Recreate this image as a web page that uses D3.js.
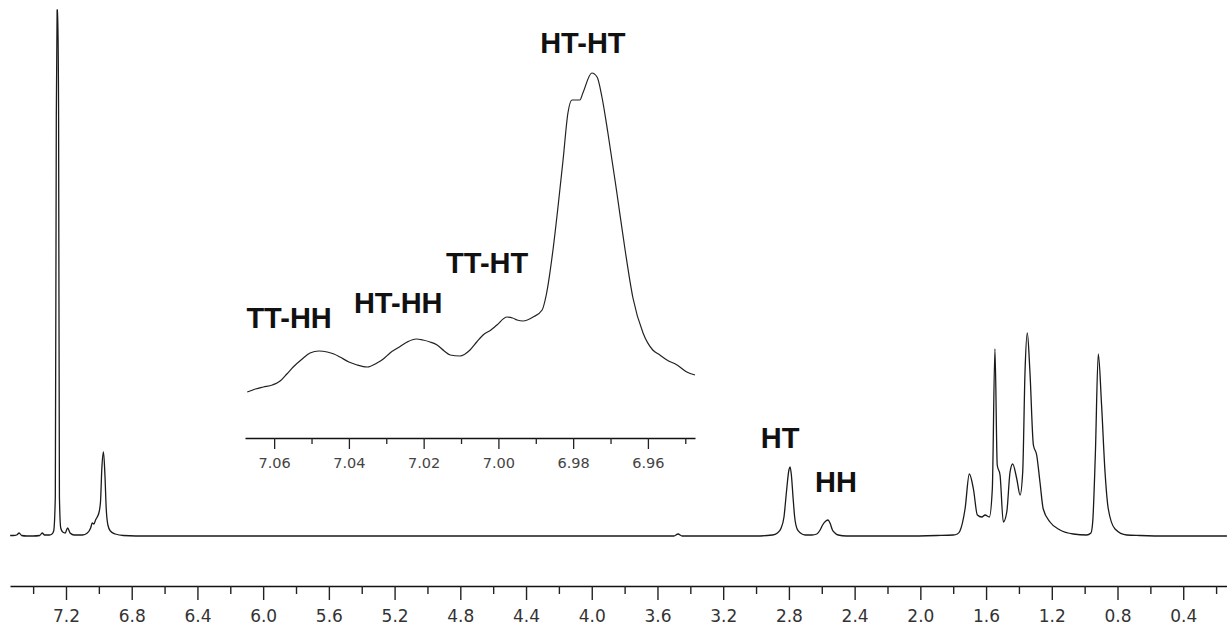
<!DOCTYPE html>
<html>
<head>
<meta charset="utf-8">
<script src="https://cdn.jsdelivr.net/npm/d3@7/dist/d3.min.js"></script>
<style>
  html, body { margin: 0; padding: 0; background: #fff; }
  svg { display: block; }
</style>
</head>
<body>
<svg id="chart" width="1227" height="627"></svg>
<script>
// ---------------- DATA ----------------
// Main 1H NMR trace: chemical shift (ppm) and intensity (a.u.)
const mainPpm = [
  7.54, 7.52, 7.50, 7.485, 7.47, 7.44, 7.40, 7.36, 7.345, 7.33, 7.30, 7.285,
  7.275, 7.265, 7.259, 7.254, 7.250, 7.245, 7.24, 7.232, 7.22, 7.205, 7.19, 7.175, 7.15,
  7.10, 7.07, 7.05, 7.04, 7.03, 7.02, 7.01, 7.00, 6.99, 6.982, 6.972, 6.963,
  6.955, 6.945, 6.93, 6.90, 6.85, 6.70, 6.40, 6.00, 5.50, 5.00, 4.50, 4.00,
  3.60, 3.50, 3.475, 3.45, 3.30, 3.00, 2.90, 2.87, 2.85, 2.83, 2.815, 2.80,
  2.793, 2.785, 2.775, 2.765, 2.75, 2.73, 2.70, 2.66, 2.63, 2.61, 2.595, 2.575,
  2.562, 2.55, 2.535, 2.52, 2.50, 2.45, 2.30, 2.10, 1.90, 1.80, 1.775, 1.759,
  1.728, 1.702, 1.677, 1.653, 1.626, 1.606, 1.58, 1.562, 1.546, 1.532, 1.515, 1.495,
  1.474, 1.454, 1.438, 1.413, 1.393, 1.377, 1.363, 1.349, 1.333, 1.312, 1.292, 1.272,
  1.252, 1.211, 1.15, 1.069, 0.988, 0.962, 0.951, 0.935, 0.917, 0.897, 0.876, 0.856,
  0.815, 0.744, 0.663, 0.50, 0.30, 0.134
];
const mainInt = [
  1.5, 1.5, 2, 4, 1.5, 1, 1, 1.5, 4, 2, 2, 3,
  6, 40, 420, 527, 527, 420, 40, 9, 5, 4, 9, 4, 2,
  2, 4, 9, 14, 13, 17, 20, 24, 35, 68, 85, 62,
  28, 12, 6, 3, 1.5, 1, 1, 1, 1, 1, 1, 1,
  1, 1, 3, 1, 1, 1, 2, 4, 8, 20, 45, 67,
  70, 62, 40, 20, 8, 4, 2, 2, 3, 7, 12, 16,
  17, 14, 7, 4, 2, 1, 1, 1, 1.5, 2, 3, 6,
  28, 63, 48, 22, 20, 22, 20, 48, 188, 72, 62, 15,
  25, 65, 73, 58, 42, 65, 165, 204, 165, 92, 82, 55,
  28, 15, 7, 3, 2, 4, 15, 82, 183, 132, 65, 28,
  8, 2, 1.5, 1, 1, 1
];

// Inset (expanded aromatic region)
const insetPpm = [
  7.0672, 7.0650, 7.0629, 7.0605, 7.0584, 7.0566, 7.0549, 7.0525, 7.0504, 7.0480,
  7.0458, 7.0440, 7.0424, 7.0400, 7.0378, 7.0351, 7.0325, 7.0308, 7.0290, 7.0265,
  7.0244, 7.0220, 7.0202, 7.0183, 7.0164, 7.0145, 7.0129, 7.0103, 7.0076, 7.0058,
  7.0041, 7.0020, 7.0004, 6.9977, 6.9962, 6.9950, 6.9934, 6.9907, 6.9883, 6.9872,
  6.9854, 6.9840, 6.9827, 6.9814, 6.9803, 6.9782, 6.9774, 6.9750, 6.9736, 6.9723,
  6.9707, 6.9683, 6.9661, 6.9640, 6.9613, 6.9587, 6.9568, 6.9549, 6.9522, 6.9496,
  6.9474
];
const insetInt = [
  8, 11, 13, 15, 19, 26, 33, 41, 47, 49,
  48, 46, 43, 38, 35, 33, 37, 41, 47, 53,
  58, 61, 60, 58, 55, 49, 45, 44, 50, 58,
  65, 70, 75, 83, 82, 80, 79, 83, 90, 105,
  150, 195, 240, 287, 300, 300, 307, 327, 323, 303,
  267, 207, 150, 102, 67, 50, 45, 40, 35, 28,
  25
];

// Axis tick values
const mainMajorTicks = [7.2, 6.8, 6.4, 6.0, 5.6, 5.2, 4.8, 4.4, 4.0, 3.6, 3.2, 2.8, 2.4, 2.0, 1.6, 1.2, 0.8, 0.4];
const mainMinorTicks = [7.4, 7.0, 6.6, 6.2, 5.8, 5.4, 5.0, 4.6, 4.2, 3.8, 3.4, 3.0, 2.6, 2.2, 1.8, 1.4, 1.0, 0.6, 0.2];
const insetMajorTicks = [7.06, 7.04, 7.02, 7.00, 6.98, 6.96];
const insetMinorTicks = [7.05, 7.03, 7.01, 6.99, 6.97, 6.95];

// Peak assignments (anchored in data coordinates)
const insetLabelText = ["HT-HT", "TT-HT", "HT-HH", "TT-HH"];
const insetLabelPpm  = [6.9774, 7.0030, 7.0268, 7.0560];
const insetLabelInt  = [347, 127, 87, 72];
const mainLabelText = ["HT", "HH"];
const mainLabelPpm  = [2.854, 2.513];
const mainLabelInt  = [89, 45];

// ---------------- DRAWING ----------------
const svg = d3.select("#chart");

// main scales
const x = d3.scaleLinear().domain([7.5408, 0.1336]).range([10, 1227]);
const y = d3.scaleLinear().domain([0, 527]).range([537, 10]);

// inset scales
const xi = d3.scaleLinear().domain([7.0678, 6.9474]).range([245, 695]);
const yi = d3.scaleLinear().domain([0, 330]).range([400, 70]);

const mainData = mainPpm.map((p, i) => [p, mainInt[i]]);
const insetData = insetPpm.map((p, i) => [p, insetInt[i]]);

const line = d3.line().x(d => x(d[0])).y(d => y(d[1])).curve(d3.curveMonotoneX);
const lineI = d3.line().x(d => xi(d[0])).y(d => yi(d[1])).curve(d3.curveMonotoneX);

svg.append("path")
  .datum(mainData.slice().reverse())
  .attr("d", line)
  .attr("fill", "none")
  .attr("stroke", "#1a1a1a")
  .attr("stroke-width", 1.3)
  .attr("stroke-linejoin", "round");

svg.append("path")
  .datum(insetData.slice().reverse())
  .attr("d", lineI)
  .attr("fill", "none")
  .attr("stroke", "#222")
  .attr("stroke-width", 1.2)
  .attr("stroke-linejoin", "round");

// main axis
const axisY = 586;
const gMain = svg.append("g").attr("transform", `translate(0,${axisY})`);
gMain.call(d3.axisBottom(x).tickValues(mainMajorTicks).tickSize(14).tickSizeOuter(0)
  .tickFormat(d3.format(".1f")));
gMain.append("g").call(d3.axisBottom(x).tickValues(mainMinorTicks).tickSize(8).tickFormat(""))
  .select(".domain").remove();
gMain.selectAll("path.domain").attr("stroke", "#111").attr("stroke-width", 1.7);
gMain.selectAll(".tick line").attr("stroke", "#222").attr("stroke-width", 1.4);
gMain.selectAll(".tick text")
  .attr("font-family", "'DejaVu Sans', Verdana, sans-serif")
  .attr("font-size", 17)
  .attr("fill", "#333")
  .attr("dy", 0)
  .attr("y", 36);

// inset axis
const insetAxisY = 438;
const gIn = svg.append("g").attr("transform", `translate(0,${insetAxisY})`);
gIn.call(d3.axisBottom(xi).tickValues(insetMajorTicks).tickSize(11).tickSizeOuter(0)
  .tickFormat(d3.format(".2f")));
gIn.append("g").call(d3.axisBottom(xi).tickValues(insetMinorTicks).tickSize(6).tickFormat(""))
  .select(".domain").remove();
gIn.selectAll("path.domain").attr("stroke", "#111").attr("stroke-width", 1.5);
gIn.selectAll(".tick line").attr("stroke", "#222").attr("stroke-width", 1.3);
gIn.selectAll(".tick text")
  .attr("font-family", "'DejaVu Sans', Verdana, sans-serif")
  .attr("font-size", 14.5)
  .attr("fill", "#444")
  .attr("dy", 0)
  .attr("y", 30);

// labels
const labelFont = "'Liberation Sans', Arial, sans-serif";
svg.append("g").selectAll("text")
  .data(insetLabelText)
  .join("text")
  .attr("x", (d, i) => xi(insetLabelPpm[i]))
  .attr("y", (d, i) => yi(insetLabelInt[i]))
  .attr("text-anchor", "middle")
  .attr("font-family", labelFont)
  .attr("font-weight", "bold")
  .attr("font-size", 29)
  .attr("fill", "#111")
  .text(d => d);

svg.append("g").selectAll("text")
  .data(mainLabelText)
  .join("text")
  .attr("x", (d, i) => x(mainLabelPpm[i]))
  .attr("y", (d, i) => y(mainLabelInt[i]))
  .attr("text-anchor", "middle")
  .attr("font-family", labelFont)
  .attr("font-weight", "bold")
  .attr("font-size", 29)
  .attr("fill", "#111")
  .text(d => d);
</script>
</body>
</html>
